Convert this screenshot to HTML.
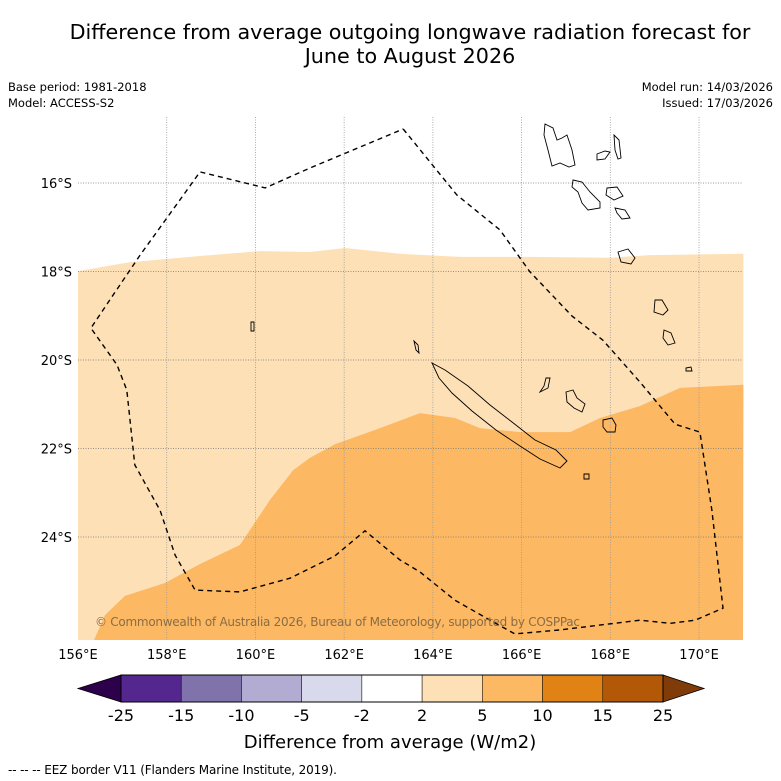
<!DOCTYPE html>
<html><head><meta charset="utf-8"><style>
body{margin:0;background:#fff;font-family:"DejaVu Sans","Liberation Sans",sans-serif;}
#wrap{position:relative;width:781px;height:781px;overflow:hidden;}
</style></head><body>
<div id="wrap">
<svg id="svg" width="781" height="781" viewBox="0 0 781 781" xmlns="http://www.w3.org/2000/svg">
<text x="410" y="39" text-anchor="middle" font-size="20.7" fill="#000">Difference from average outgoing longwave radiation forecast for</text>
<text x="410" y="63" text-anchor="middle" font-size="20.7" fill="#000">June to August 2026</text>
<text x="8" y="91" font-size="11.5">Base period: 1981-2018</text>
<text x="8" y="107" font-size="11.5">Model: ACCESS-S2</text>
<text x="773" y="91" font-size="11.5" text-anchor="end">Model run: 14/03/2026</text>
<text x="773" y="107" font-size="11.5" text-anchor="end">Issued: 17/03/2026</text>
<g id="map"></g>
<g id="cbar"></g>
<text x="390" y="748" text-anchor="middle" font-size="18">Difference from average (W/m2)</text>
<text x="8" y="774" font-size="12" textLength="329">--  --  -- EEZ border V11 (Flanders Marine Institute, 2019).</text>
</svg></div>
<script>
const lonTicks=[156,158,160,162,164,166,168,170];
const latTicks=[16,18,20,22,24];
const levelLabels=["-25","-15","-10","-5","-2","2","5","10","15","25"];
const levelColors=["#54278f","#8073ac","#b2abd2","#d8daeb","#ffffff","#fee0b6","#fdb863","#e08214","#b35806"];
const band1Lon=[156,157.17,158.75,160.10,161.23,162.02,163.26,164.61,166.19,167.99,168.89,171];
const band1Lat=[17.99,17.79,17.65,17.54,17.56,17.47,17.60,17.67,17.67,17.69,17.63,17.60];
const band2Lon=[156.36,156.61,157.06,157.96,158.75,159.65,160.33,160.85,161.23,161.80,162.81,163.71,164.50,165.06,165.96,167.09,167.77,168.67,169.57,171];
const band2Lat=[26.33,25.76,25.33,25.04,24.61,24.18,23.16,22.49,22.21,21.90,21.54,21.20,21.31,21.54,21.63,21.63,21.31,21.04,20.63,20.56];
const eezLon=[163.33,164.54,165.51,166.19,167.14,167.83,168.67,169.46,170.02,170.29,170.54,169.91,169.35,168.67,166.87,165.85,165.29,164.50,163.71,163.26,162.47,161.79,160.78,159.65,158.64,158.19,157.85,157.28,157.10,156.88,156.29,156.72,157.40,158.30,158.75,160.22,161.23,163.33];
const eezLat=[14.78,16.27,17.06,18.01,19.01,19.55,20.50,21.45,21.63,23.40,25.61,25.88,25.95,25.88,26.10,26.19,25.88,25.43,24.79,24.52,23.86,24.43,24.93,25.24,25.20,24.41,23.40,22.37,20.68,20.11,19.28,18.64,17.63,16.38,15.75,16.11,15.66,14.78];
const NS="http://www.w3.org/2000/svg";
const X0=78,X1=743,Y0=117,Y1=640;
const xs=lon=>78+(lon-156)*44.36;
const ys=lat=>183+(lat-16)*44.25;
function mk(tag,attrs,parent){const e=document.createElementNS(NS,tag);for(const k in attrs)e.setAttribute(k,attrs[k]);parent.appendChild(e);return e;}
const map=document.getElementById('map');
mk('rect',{x:X0,y:Y0,width:X1-X0,height:Y1-Y0,fill:'#fff'},map);
let d='M'+X0+','+Y1+' ';
band1Lon.forEach((l,i)=>{d+='L'+xs(l).toFixed(1)+','+ys(band1Lat[i]).toFixed(1)+' ';});
d+='L'+X1+','+Y1+'Z';
let p=mk('path',{d:d,fill:levelColors[5]},map);


d='M'+xs(band2Lon[0]).toFixed(1)+','+Y1+' ';
band2Lon.forEach((l,i)=>{d+='L'+xs(l).toFixed(1)+','+ys(band2Lat[i]).toFixed(1)+' ';});
d+='L'+X1+','+Y1+'Z';
p=mk('path',{d:d,fill:levelColors[6]},map);


lonTicks.forEach(l=>{const x=xs(l);
 if(x>X0+1){const g=mk('line',{x1:x,x2:x,y1:Y0,y2:Y1,stroke:'#999','stroke-width':0.8,'stroke-dasharray':'1,1.5'},map);
 }
 const t=mk('text',{x:x,y:659,'text-anchor':'middle','font-size':13},map);t.textContent=l+'°E';
 });
latTicks.forEach(l=>{const y=ys(l);
 const g=mk('line',{x1:X0,x2:X1,y1:y,y2:y,stroke:'#777','stroke-width':0.8,'stroke-dasharray':'1,1.5'},map);
 
 const t=mk('text',{x:72,y:y+5,'text-anchor':'end','font-size':13},map);t.textContent=l+'°S';
 });
const islands=[
"M432,363 L445,370 L468,386 L490,405 L512,422 L535,440 L556,450 L567,461 L560,468 L540,459 L520,446 L496,430 L472,411 L452,393 L439,378Z",
"M545,124 L553,128 L557,140 L562,138 L567,135 L572,150 L575,165 L569,167 L560,163 L552,166 L548,150 L544,135Z",
"M573,180 L582,182 L590,192 L600,202 L600,208 L588,210 L582,203 L578,192 L572,187Z",
"M614,135 L619,140 L621,158 L618,159 L615,150Z",
"M597,154 L605,151 L610,152 L605,159 L597,160Z",
"M607,188 L617,187 L623,196 L614,200 L606,195Z",
"M615,208 L625,210 L630,218 L622,219 L617,213Z",
"M618,252 L628,249 L635,258 L631,264 L621,262Z",
"M655,300 L662,300 L668,310 L663,315 L654,312Z",
"M664,330 L671,333 L675,343 L668,345 L663,338Z",
"M686,368 L691,367 L692,371 L686,371Z",
"M566,392 L573,390 L577,398 L585,404 L582,412 L574,408 L567,402Z",
"M546,378 L550,378 L548,388 L540,392 L544,386Z",
"M603,420 L612,418 L616,425 L615,432 L607,432 L603,427Z",
"M584,474 L589,474 L589,479 L584,479Z",
"M251,322 L254,322 L254,331 L251,331Z",
"M414,341 L418,345 L419,353 L416,350Z"];
islands.forEach(s=>{const e=mk('path',{d:s,fill:'none',stroke:'#000','stroke-width':0.9},map);
 });
d='';eezLon.forEach((l,i)=>{d+=(i?'L':'M')+xs(l).toFixed(1)+','+ys(eezLat[i]).toFixed(1)+' ';});
p=mk('path',{d:d,fill:'none',stroke:'#000','stroke-width':1.4,'stroke-dasharray':'5,4'},map);


const cr=mk('text',{x:95,y:626,'font-size':12,fill:'#8a6d45',textLength:485},map);cr.textContent='© Commonwealth of Australia 2026, Bureau of Meteorology, supported by COSPPac';

const cb=document.getElementById('cbar');
const cx0=121,cx1=663,cy0=675,cy1=702,cw=(cx1-cx0)/levelColors.length;
let a=mk('path',{d:`M${cx0},${cy0} L78,688.5 L${cx0},${cy1}Z`,fill:'#2d004b',stroke:'#000','stroke-width':0.8},cb);

a=mk('path',{d:`M${cx1},${cy0} L704,688.5 L${cx1},${cy1}Z`,fill:'#7f3b08',stroke:'#000','stroke-width':0.8},cb);

levelColors.forEach((c,i)=>{const r=mk('rect',{x:cx0+i*cw,y:cy0,width:cw,height:cy1-cy0,fill:c,stroke:'#000','stroke-width':0.5},cb);
 });
mk('rect',{x:cx0,y:cy0,width:cx1-cx0,height:cy1-cy0,fill:'none',stroke:'#000','stroke-width':1},cb);
levelLabels.forEach((s,i)=>{const t=mk('text',{x:cx0+i*cw,y:721,'text-anchor':'middle','font-size':16},cb);t.textContent=s;
 });
</script>
</body></html>
